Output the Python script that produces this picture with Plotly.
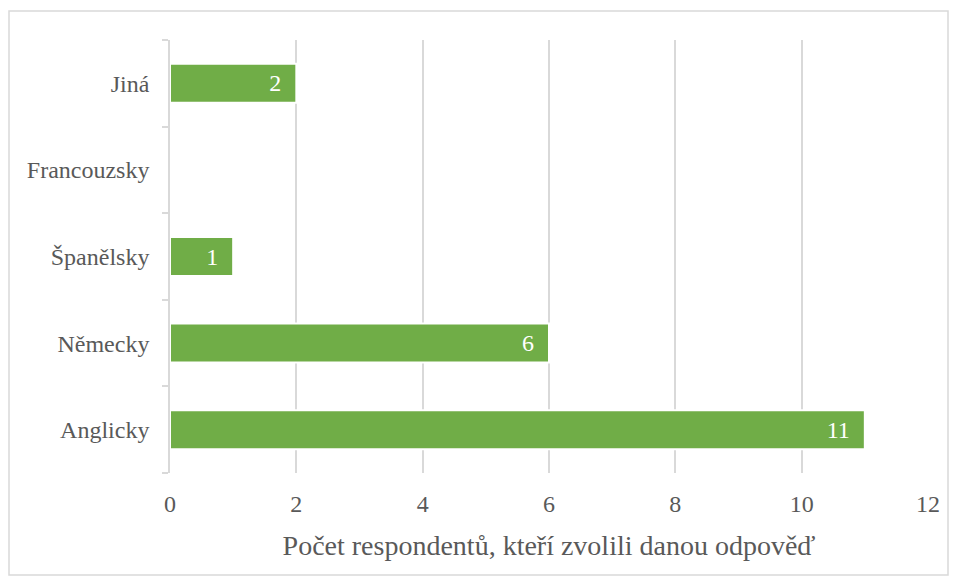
import plotly.graph_objects as go

categories = ["Anglicky", "Německy", "Španělsky", "Francouzsky", "Jiná"]
values = [11, 6, 1, 0, 2]
x_ticks = [0, 2, 4, 6, 8, 10, 12]
x_title = "Počet respondentů, kteří zvolili danou odpověď"

PAD = "\u00a0\u00a0"
labels = [(str(v) + PAD) if v else "" for v in values]

FONT = "Liberation Serif"
GRAY = "#595959"
GRID = "#d9d9d9"
FS = 24

fig = go.Figure(go.Bar(
    y=categories, x=values, orientation="h",
    marker=dict(color="#70ad47", line=dict(color="white", width=2)),
    text=labels, textposition="inside", insidetextanchor="end",
    textfont=dict(family=FONT, size=FS, color="white"),
    cliponaxis=False,
))

L, R, T, B = 170, 27, 40, 107
W, H = 955, 580
pw, ph = W - L - R, H - T - B

fig.update_layout(
    width=W, height=H,
    margin=dict(l=L, r=R, t=T, b=B),
    paper_bgcolor="white", plot_bgcolor="white",
    bargap=0.55,
    showlegend=False,
    font=dict(family=FONT, size=FS, color=GRAY),
    xaxis=dict(
        range=[0, 12], tickvals=x_ticks, ticktext=[str(t) for t in x_ticks],
        showgrid=True, gridcolor=GRID, gridwidth=1.5,
        zeroline=False, showline=False, ticks="",
        ticklabelstandoff=14,
        tickfont=dict(family=FONT, size=FS, color=GRAY),
        title=dict(text=x_title, font=dict(family=FONT, size=28, color=GRAY), standoff=19),
    ),
    yaxis=dict(
        categoryorder="array", categoryarray=categories,
        showline=True, linecolor=GRID, linewidth=1.5,
        ticks="outside", tickson="boundaries", ticklen=6, tickcolor=GRID, tickwidth=1.5,
        showgrid=False,
        ticklabelstandoff=14,
        tickfont=dict(family=FONT, size=FS, color=GRAY),
    ),
    shapes=[dict(
        type="rect", xref="paper", yref="paper",
        x0=(9 - L) / pw, x1=(948 - L) / pw,
        y0=(H - B - 575) / ph, y1=(H - B - 11) / ph,
        line=dict(color=GRID, width=1.5), fillcolor="rgba(0,0,0,0)", layer="below",
    )],
)

fig.write_html("out.html", config={"displayModeBar": False},
               post_script="document.body.style.margin='0';")
